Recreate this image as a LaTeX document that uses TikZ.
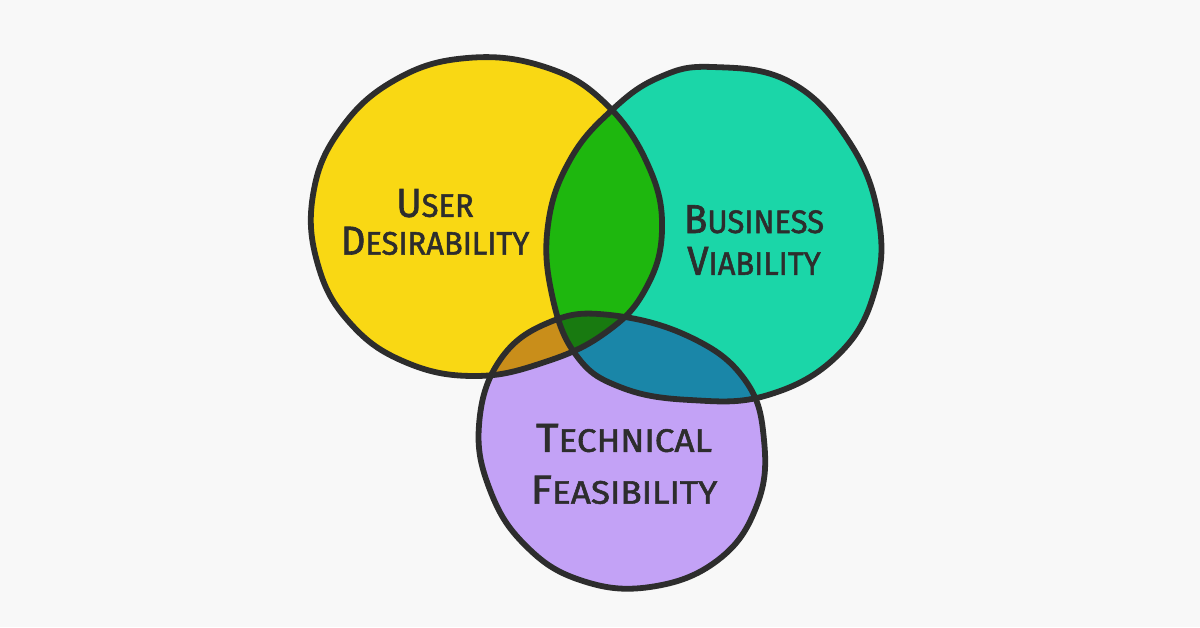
\documentclass[tikz,border=0pt]{standalone}
\usepackage{tikz}
\usepackage{graphicx}
\usepackage{fontspec}

\newfontfamily\handfont[FakeBold=1.6]{Fira Sans}

\definecolor{bggray}{HTML}{F8F8F8}
\definecolor{inkgray}{HTML}{2D2D2D}
\definecolor{yellowfill}{HTML}{F9D814}
\definecolor{tealfill}{HTML}{1BD6A8}
\definecolor{purplefill}{HTML}{C3A2F6}
\definecolor{greenfill}{HTML}{1EB70E}
\definecolor{orangefill}{HTML}{C98E1A}
\definecolor{bluefill}{HTML}{1A86A8}
\definecolor{darkgreenfill}{HTML}{187A10}

% big first letter, smaller rest, narrow like hand lettering
\newcommand{\handword}[3][0.95]{\scalebox{#1}[1]{\fontsize{23}{23}\selectfont#2\fontsize{18.5}{18.5}\selectfont#3}}

\def\userpath{plot[smooth cycle, tension=.7] coordinates {(467,58) (545,67) (605,103) (648,165) (662,230) (645,290) (605,333) (545,362) (475,376) (405,362) (350,323) (318,265) (313,195) (340,130) (395,80)}}
\def\businesspath{plot[smooth cycle, tension=.7] coordinates {(713,67) (790,82) (848,140) (878,215) (875,290) (838,355) (768,395) (690,400) (620,387) (576,355) (552,295) (548,225) (570,160) (612,110) (660,77)}}
\def\techpath{plot[smooth cycle, tension=.7] coordinates {(610,315) (690,337) (745,380) (764,440) (757,505) (718,560) (650,587) (580,580) (525,545) (490,490) (479,425) (500,360) (550,322)}}

\begin{document}
\begin{tikzpicture}[x=0.02cm, y=-0.02cm,
	outline/.style={inkgray, line width=3.3pt, line join=round},
	venntext/.style={inkgray, inner sep=0pt, align=center, font=\handfont\fontsize{23}{21.5}\selectfont}]
	% background
	\fill[bggray] (0,0) rectangle (1200,627);

	% circles
	\fill[yellowfill] \userpath;
	\fill[tealfill] \businesspath;
	\fill[purplefill] \techpath;

	% overlaps
	\begin{scope}
		\clip \userpath;
		\fill[greenfill] \businesspath;
		\fill[orangefill] \techpath;
	\end{scope}
	\begin{scope}
		\clip \businesspath;
		\fill[bluefill] \techpath;
	\end{scope}
	\begin{scope}
		\clip \userpath;
		\clip \businesspath;
		\fill[darkgreenfill] \techpath;
	\end{scope}

	% outlines
	\draw[outline] \userpath;
	\draw[outline] \businesspath;
	\draw[outline] \techpath;

	% labels
	\node[venntext] (user) at (435,222) {\handword{U}{SER}\\\handword{D}{ESIRABILITY}};
	\node[venntext] (business) at (754,240) {\handword{B}{USINESS}\\[2.3pt]\handword{V}{IABILITY}};
	\node[venntext] (technical) at (624,464) {\handword[1.08]{T}{ECHNICAL}\\[8pt]\handword[1.08]{F}{EASIBILITY}};
\end{tikzpicture}
\end{document}
